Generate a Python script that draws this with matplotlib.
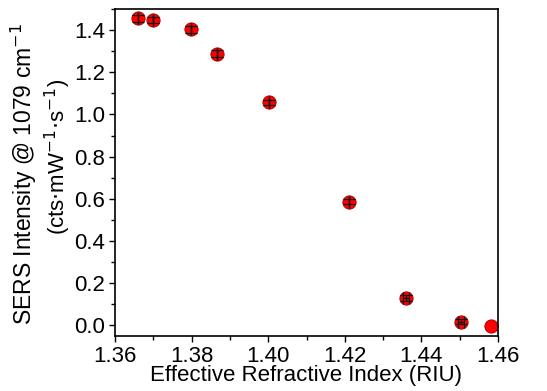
import matplotlib.pyplot as plt
from matplotlib.ticker import MultipleLocator

plt.rcParams['font.family'] = ['Liberation Sans', 'DejaVu Sans']

# effective refractive index vs SERS intensity
n_eff = [1.3659, 1.3699, 1.3798, 1.3866, 1.4001, 1.4211, 1.4360, 1.4503, 1.4582]
intensity = [1.456, 1.448, 1.403, 1.289, 1.057, 0.586, 0.130, 0.018, -0.003]
intensity_err = [0.016, 0.013, 0.016, 0.015, 0.013, 0.012, 0.012, 0.012, 0.0]
n_err = [0.0, 0.0, 0.0, 0.0, 0.0, 0.0, 0.0008, 0.0008, 0.0]

fig = plt.figure(figsize=(5.47, 3.91), dpi=100)
ax = fig.add_axes([115 / 547, 1 - 336 / 391, (498 - 115) / 547, (336 - 9) / 391])

ax.plot(n_eff, intensity, 'o', color='#ff0000', markeredgecolor='#b00000',
        markeredgewidth=0.7, markersize=9.5, zorder=2)
# last point has no error bar
ax.errorbar(n_eff[:-1], intensity[:-1], yerr=intensity_err[:-1], xerr=n_err[:-1],
            fmt='none', ecolor='#111111', elinewidth=0.9, capsize=4, capthick=0.9,
            zorder=3)

ax.set_xlim(1.36, 1.46)
ax.set_ylim(-0.05, 1.5)
ax.xaxis.set_major_locator(MultipleLocator(0.02))
ax.xaxis.set_minor_locator(MultipleLocator(0.01))
ax.yaxis.set_major_locator(MultipleLocator(0.2))
ax.yaxis.set_minor_locator(MultipleLocator(0.1))
ax.xaxis.set_major_formatter(plt.FuncFormatter(lambda v, p: f'{v:.2f}'))
ax.yaxis.set_major_formatter(plt.FuncFormatter(lambda v, p: f'{v:.1f}'))
ax.tick_params(which='major', direction='out', length=4, width=1, labelsize=16, pad=3)
ax.tick_params(which='minor', direction='out', length=3, width=1)
for s in ax.spines.values():
    s.set_linewidth(1.2)

ax.set_xlabel('Effective Refractive Index (RIU)', fontsize=16, labelpad=-1)

# two-line y label, positioned like the original
fig.text(24 / 547, 1 - 174 / 391, 'SERS Intensity @ 1079 cm$^{-1}$', rotation=90,
         ha='center', va='center', fontsize=16.5)
fig.text(58 / 547, 1 - 157 / 391, '(cts$\\cdot$mW$^{-1}$$\\cdot$s$^{-1}$)', rotation=90,
         ha='center', va='center', fontsize=16)

fig.savefig('out.png', dpi=100)
